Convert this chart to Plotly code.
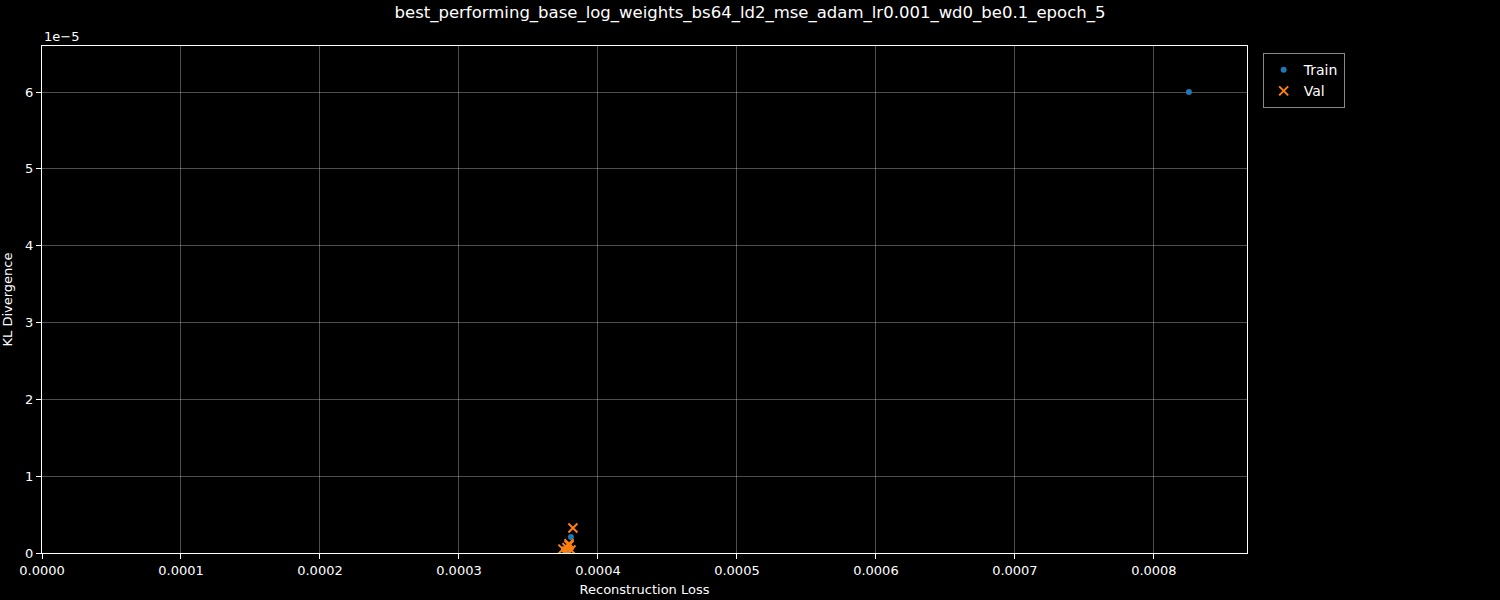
import plotly.graph_objects as go

title = "best_performing_base_log_weights_bs64_ld2_mse_adam_lr0.001_wd0_be0.1_epoch_5"

train_recon = [0.0008252, 0.0003806, 0.0003755, 0.0003775, 0.0003790, 0.0003760]
train_kl = [6.0e-5, 0.208e-5, 0.04e-5, 0.05e-5, 0.03e-5, 0.06e-5]

val_recon = [0.0003820, 0.0003748, 0.0003777, 0.0003792, 0.0003806, 0.0003770, 0.0003792]
val_kl = [0.325e-5, 0.05e-5, 0.07e-5, 0.10e-5, 0.04e-5, 0.02e-5, 0.12e-5]

x_ticks = [0, 0.0001, 0.0002, 0.0003, 0.0004, 0.0005, 0.0006, 0.0007, 0.0008]
y_tickvals = [0, 1e-5, 2e-5, 3e-5, 4e-5, 5e-5, 6e-5]
y_ticktext = ["0", "1", "2", "3", "4", "5", "6"]

font = "DejaVu Sans"

fig = go.Figure()
fig.add_trace(go.Scatter(
    x=train_recon, y=train_kl, mode="markers", name="Train",
    marker=dict(color="#1f77b4", size=6, symbol="circle", line=dict(width=0)),
))
fig.add_trace(go.Scatter(
    x=val_recon, y=val_kl, mode="markers", name="Val",
    marker=dict(color="#ff7f0e", size=9, symbol="x-thin",
                line=dict(width=2, color="#ff7f0e")),
))

axis_common = dict(
    showline=True, linecolor="white", linewidth=1, mirror=True,
    ticks="outside", ticklen=5, tickcolor="white", tickwidth=1,
    showgrid=True, gridcolor="rgba(255,255,255,0.3)", gridwidth=1,
    zeroline=False, automargin=False,
    tickfont=dict(family=font, size=13, color="white"),
)

fig.update_layout(
    width=1500, height=600,
    paper_bgcolor="black", plot_bgcolor="black",
    margin=dict(l=42, r=253, t=46, b=47, autoexpand=False),
    font=dict(family=font, color="white", size=13),
    title=dict(text=title, x=0.5, xanchor="center", y=0.98, yanchor="middle",
               font=dict(family=font, size=16.5, color="white")),
    xaxis=dict(range=[0, 0.000867], tickvals=x_ticks, tickformat=".4f",
               title=dict(text="Reconstruction Loss", font=dict(size=13), standoff=8),
               **axis_common),
    yaxis=dict(range=[0, 6.6e-5], tickvals=y_tickvals, ticktext=y_ticktext,
               title=dict(text="KL Divergence", font=dict(size=13), standoff=12),
               **axis_common),
    legend=dict(x=1.013, y=0.986, xanchor="left", yanchor="top",
                bgcolor="black", bordercolor="#888", borderwidth=1,
                tracegroupgap=0,
                font=dict(family=font, size=14, color="white")),
    showlegend=True,
)

fig.add_annotation(text="1e\u22125", xref="paper", yref="paper", x=0, y=1.0,
                   xanchor="left", yanchor="bottom", showarrow=False,
                   font=dict(family=font, size=13, color="white"))

fig.write_html("out.html")
